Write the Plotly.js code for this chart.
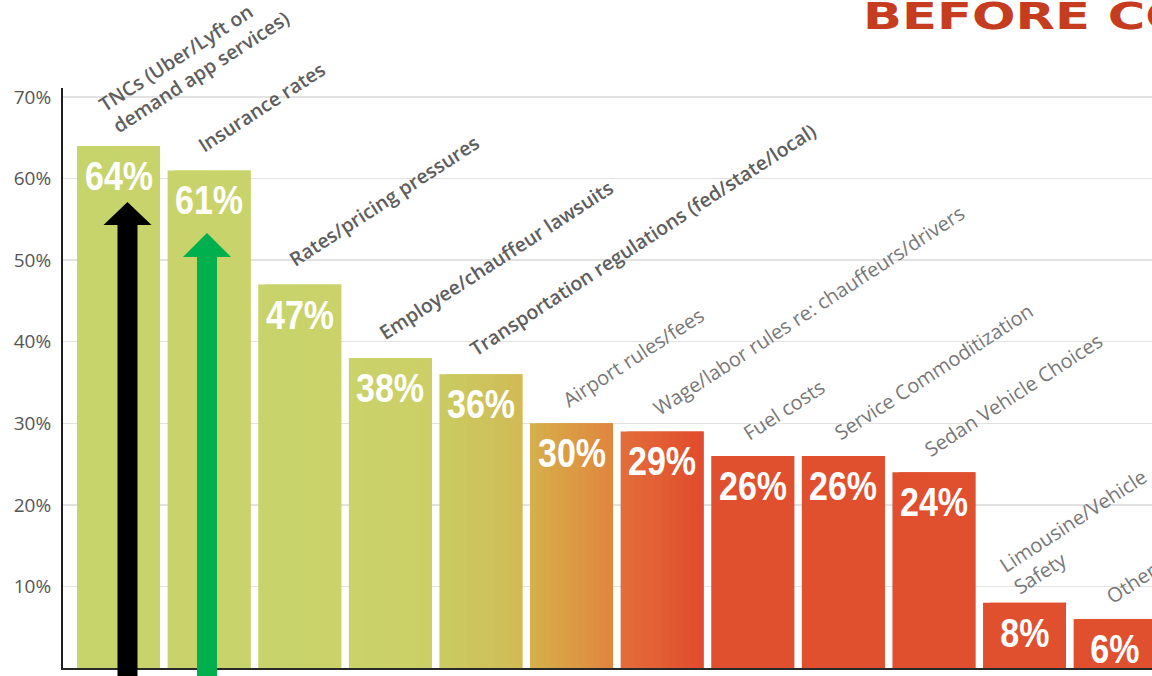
<!DOCTYPE html>
<html><head><meta charset="utf-8">
<script src="https://cdn.plot.ly/plotly-3.0.1.min.js"></script>
<style>html,body{margin:0;padding:0;background:#fff;overflow:hidden}</style>
</head><body><div id="chart" style="width:1152px;height:676px"></div>
<script>
const categories = [
  "TNCs (Uber/Lyft on<br>demand app services)",
  "Insurance rates",
  "Rates/pricing pressures",
  "Employee/chauffeur lawsuits",
  "Transportation regulations (fed/state/local)",
  "Airport rules/fees",
  "Wage/labor rules re: chauffeurs/drivers",
  "Fuel costs",
  "Service Commoditization",
  "Sedan Vehicle Choices",
  "Limousine/Vehicle<br>Safety",
  "Other"
];
const values = [64, 61, 47, 38, 36, 30, 29, 26, 26, 24, 8, 6];
const valueLabels = ["64%", "61%", "47%", "38%", "36%", "30%", "29%", "26%", "26%", "24%", "8%", "6%"];
const yTickVals = [0, 10, 20, 30, 40, 50, 60, 70];
const yTickText = ["0", "10%", "20%", "30%", "40%", "50%", "60%", "70%"];
const titleText = "BEFORE CO";
const colorLeft  = ["#c7d46c", "#c8d46b", "#c9d36b", "#cad26a", "#c9cc62", "#d6b04b", "#e26e3a", "#e0502f", "#e0502f", "#e0502f", "#e0502f", "#e0502f"];
const colorRight = ["#c8d46b", "#c9d36b", "#cad26a", "#cccf66", "#d2ba56", "#e0853e", "#e14b2d", "#e0502f", "#e0502f", "#e0502f", "#e0502f", "#e0502f"];

function hexToRgb(h){return [parseInt(h.slice(1,3),16),parseInt(h.slice(3,5),16),parseInt(h.slice(5,7),16)];}
function mix(a,b,t){const A=hexToRgb(a),B=hexToRgb(b);return 'rgb('+A.map((v,i)=>Math.round(v+(B[i]-v)*t)).join(',')+')';}

const W = 0.916, N = 12;
const xs = values.map((v,i)=>i);
const traces = [];
for (let k=0;k<N;k++){
  const t=(k+0.5)/N;
  const off = -W/2 + k*W/N;
  const wd = Math.min(W/N*2, W/2 - off);
  traces.push({
    type:'bar', x:xs, y:values,
    width:wd, offset:off,
    marker:{color:colorLeft.map((c,i)=>mix(c,colorRight[i],t)), line:{width:0}},
    hoverinfo:'skip', showlegend:false
  });
}

const L=63, T=88, PW=1089, PH=580;
function px(x){return (x-L)/PW;}
function py(y){return (T+PH-y)/PH;}
function arrow(cx, tipY, baseY, shaftHalf, headHalf, color){
  const bottom = 690;
  const p = [[cx-shaftHalf,bottom],[cx-shaftHalf,baseY],[cx-headHalf,baseY],[cx,tipY],[cx+headHalf,baseY],[cx+shaftHalf,baseY],[cx+shaftHalf,bottom]];
  return {type:'path', xref:'paper', yref:'paper', layer:'above',
    path:'M'+p.map(q=>px(q[0]).toFixed(5)+','+py(q[1]).toFixed(5)).join(' L')+' Z',
    fillcolor:color, line:{width:0}};
}

const annotations = categories.map((c,i)=>{
  const bold = i < 5;
  const multi = c.indexOf('<br>') >= 0;
  return {
    x:i, y:values[i], xref:'x', yref:'y', text:c, textangle:-33,
    xanchor:'left', yanchor:'bottom',
    xshift: multi ? (bold ? -28 : -33) : (bold ? -19 : -17),
    yshift: multi ? (bold ? 5 : 0) : (bold ? 10 : 7),
    showarrow:false, align:'left',
    font:{family:'"Open Sans", sans-serif', size: bold ? 19.5 : 20, color: bold ? '#5e5e5e' : '#777777', weight: bold ? 600 : 400}
  };
});
valueLabels.forEach((v,i)=>annotations.push({
  x:i, y:values[i], xref:'x', yref:'y', text:v, xanchor:'center', yanchor:'top',
  yshift:-6, showarrow:false,
  font:{family:'"Liberation Sans", Arial, sans-serif', size:40, color:'#ffffff', weight:'bold'}
}));
annotations.push({
  xref:'paper', yref:'paper', x:px(1026), y:py(-8), xanchor:'center', yanchor:'top',
  text:titleText, showarrow:false,
  font:{family:'"DejaVu Sans", sans-serif', size:38, color:'#c63c1f', weight:'bold'}
});

const layout = {
  width:1152, height:676,
  margin:{l:L, r:0, t:T, b:676-T-PH, pad:0},
  paper_bgcolor:'#ffffff', plot_bgcolor:'#ffffff',
  barmode:'overlay', showlegend:false,
  xaxis:{range:[-0.613, 11.407], showticklabels:false, showgrid:false, zeroline:false,
    showline:true, linecolor:'#2a2a2a', linewidth:2, ticks:'', fixedrange:true},
  yaxis:{range:[0, 71.1], tickvals:yTickVals, ticktext:yTickText, showgrid:true,
    gridcolor:'#e2e2e2', gridwidth:1.5, zeroline:false, showline:true, linecolor:'#1e1e1e', linewidth:2,
    ticks:'', ticklabelstandoff:6, tickfont:{family:'"Open Sans", sans-serif', size:19, color:'#555555'}, fixedrange:true},
  shapes:[arrow(127.5,202,225,10,24,'#000000'), arrow(207,233,257,10,24,'#00b04f')],
  annotations:annotations
};

Plotly.newPlot('chart', traces, layout, {displayModeBar:false, staticPlot:true}).then(()=>{
  document.querySelectorAll('.annotation-text').forEach(el=>{
    const s = el.textContent;
    if (s === titleText) {
      el.setAttribute('textLength', '326');
      el.setAttribute('lengthAdjust', 'spacingAndGlyphs');
    }
    if (valueLabels.indexOf(s) >= 0) {
      const w = el.getComputedTextLength();
      el.setAttribute('textLength', (w*0.85).toFixed(1));
      el.setAttribute('lengthAdjust', 'spacingAndGlyphs');
    }
  });
});
</script></body></html>
